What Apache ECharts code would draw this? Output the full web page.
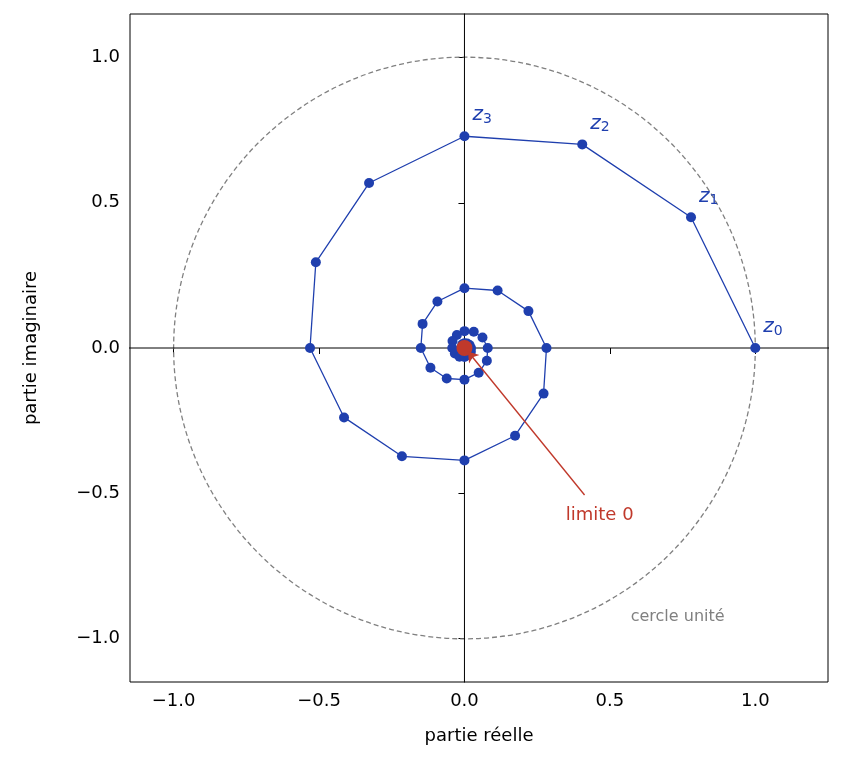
<!DOCTYPE html>
<html><head><meta charset="utf-8">
<script src="https://cdn.jsdelivr.net/npm/echarts@6/dist/echarts.min.js"></script>
<style>html,body{margin:0;padding:0;background:#fff}#c{width:843px;height:776px}</style>
</head><body><div id="c"></div>
<script>
const spiralX = [1,0.779,0.405,0,-0.328,-0.511,-0.531,-0.414,-0.215,0,0.174,0.272,0.282,0.220,0.114,0,-0.093,-0.144,-0.150,-0.117,-0.061,0,0.049,0.077,0.080,0.062,0.032,0,-0.026,-0.041,-0.042,-0.033,-0.017,0,0.014,0.022,0.0225,0.0176,0.0091,0,-0.0074];
const spiralY = [0,0.45,0.701,0.729,0.568,0.295,0,-0.239,-0.373,-0.387,-0.302,-0.157,0,0.127,0.198,0.206,0.160,0.083,0,-0.068,-0.105,-0.109,-0.085,-0.044,0,0.036,0.056,0.058,0.045,0.024,0,-0.019,-0.030,-0.031,-0.024,-0.0125,0,0.0101,0.0158,0.0164,0.0128];
const pointLabels = ['0','1','2','3'];
const tickValues = [-1.0,-0.5,0.0,0.5,1.0];
const tickLabels = ['\u22121.0','\u22120.5','0.0','0.5','1.0'];
const limitText = 'limite 0';
const circleText = 'cercle unité';
const FONT = 'DejaVu Sans';
const blue = '#1f3fae', red = '#c0392b';

const data = spiralX.map((x,i)=>[x,spiralY[i]]);
const fmt = v => tickLabels[tickValues.findIndex(t=>Math.abs(t-v)<1e-9)] ?? '';
const axisCommon = {
  min:-1.15, max:1.15, splitLine:{show:false}, axisLine:{show:false},
  axisTick:{show:true, inside:false, customValues:tickValues, length:6, lineStyle:{color:'#000'}},
  axisLabel:{customValues:tickValues, formatter:fmt, color:'#000', fontSize:18, fontFamily:FONT, margin:10},
  nameTextStyle:{color:'#000', fontSize:18, fontFamily:FONT}
};
const chart = echarts.init(document.getElementById('c'));
chart.setOption({
  animation:false,
  grid:{left:130, right:15, top:14, bottom:94, show:true, borderColor:'#000', borderWidth:1},
  xAxis:Object.assign({}, axisCommon, {type:'value', max:1.25, name:'partie réelle', nameLocation:'middle', nameGap:45}),
  yAxis:Object.assign({}, axisCommon, {type:'value', name:'partie imaginaire', nameLocation:'middle', nameGap:90}),
  series:[
    {type:'custom', data:[[0,0,1]], z:1, silent:true,
     renderItem:(p,api)=>{const c=api.coord([0,0]); const e=api.coord([1,0]);
       return {type:'circle', shape:{cx:c[0],cy:c[1],r:e[0]-c[0]}, style:{fill:null, stroke:'#808080', lineWidth:1.3, lineDash:[5,3]}};}},
    {type:'line', data:[[0,-2],[0,2]], symbol:'none', lineStyle:{color:'#000',width:1}, silent:true, z:1},
    {type:'line', data:[[-2,0],[2,0]], symbol:'none', lineStyle:{color:'#000',width:1}, silent:true, z:1},
    {type:'line', data:data, symbol:'circle', symbolSize:10, itemStyle:{color:blue}, lineStyle:{color:blue, width:1.3}, z:3,
     label:{show:true, position:'insideBottomLeft', offset:[8,-10], formatter:p=>p.dataIndex<pointLabels.length?'{z|z}{s|'+pointLabels[p.dataIndex]+'}':'',
       rich:{z:{fontFamily:FONT, fontStyle:'italic', fontSize:20, color:blue}, s:{fontFamily:FONT, fontSize:14, color:blue, verticalAlign:'bottom', padding:[8,0,0,0]}}}},
    {type:'scatter', data:[[0,0]], symbolSize:16, itemStyle:{color:red, opacity:1}, z:4, silent:true,
     markLine:{silent:true, symbol:['none','arrow'], symbolSize:10, animation:false,
       lineStyle:{color:red, width:1.4, type:'solid'}, label:{show:false},
       data:[[{coord:[0.413,-0.506]},{coord:[0.012,-0.012]}]]},
     markPoint:{silent:true, symbol:'circle', symbolSize:1, itemStyle:{color:'rgba(0,0,0,0)'},
       data:[
         {coord:[0.465,-0.575], label:{show:true, position:'inside', formatter:limitText, color:red, fontSize:18, fontFamily:FONT}},
         {coord:[0.733,-0.927], label:{show:true, position:'inside', formatter:circleText, color:'#808080', fontSize:16, fontFamily:FONT}}
       ]}}
  ]
});
</script></body></html>
